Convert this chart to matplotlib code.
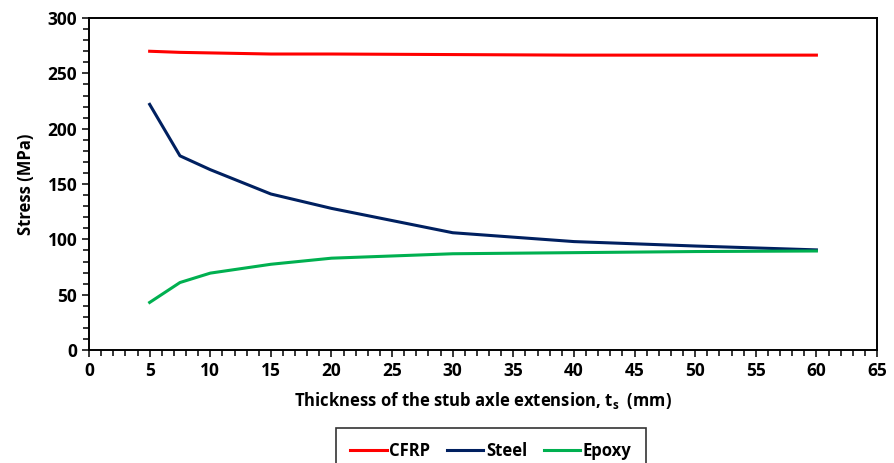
import matplotlib.pyplot as plt
from matplotlib.ticker import MultipleLocator

plt.rcParams['font.family'] = ['Open Sans', 'DejaVu Sans']
plt.rcParams['mathtext.fontset'] = 'custom'
plt.rcParams['mathtext.bf'] = 'Open Sans:bold'
plt.rcParams['mathtext.rm'] = 'Open Sans'

thickness = [5, 7.5, 10, 15, 20, 30, 40, 50, 60]
cfrp = [270, 269, 268.5, 267.5, 267.5, 267, 266.5, 266.5, 266.5]
steel = [222, 175.5, 163, 141, 128, 106, 98, 94, 90.5]
epoxy = [43, 61, 69.5, 77.5, 83, 87, 88, 89, 89.5]

fig = plt.figure(figsize=(8.94, 4.63), dpi=100)
ax = fig.add_axes([0.0996, 0.244, 0.8814, 0.717])

ax.plot(thickness, cfrp, color='#ff0000', lw=2.2, label='CFRP')
ax.plot(thickness, steel, color='#002060', lw=2.2, label='Steel')
ax.plot(thickness, epoxy, color='#00b050', lw=2.2, label='Epoxy')

ax.set_xlim(0, 65)
ax.set_ylim(0, 300)
ax.xaxis.set_major_locator(MultipleLocator(5))
ax.xaxis.set_minor_locator(MultipleLocator(1))
ax.yaxis.set_major_locator(MultipleLocator(50))
ax.yaxis.set_minor_locator(MultipleLocator(10))
ax.tick_params(which='both', direction='out', width=1.1)
ax.tick_params(which='major', length=5, labelsize=12.5)
ax.tick_params(which='minor', length=4)
for lbl in ax.get_xticklabels() + ax.get_yticklabels():
    lbl.set_fontweight('bold')
for sp in ax.spines.values():
    sp.set_linewidth(1.4)

ax.set_xlabel(r'Thickness of the stub axle extension, t$_\mathbf{s}$  (mm)',
              fontsize=12, fontweight='bold', labelpad=7)
ax.set_ylabel('Stress (MPa)', fontsize=12, fontweight='bold', labelpad=9)

leg = fig.legend(loc='upper center', bbox_to_anchor=(0.549, 0.0756), ncol=3,
                 frameon=True, fancybox=False, edgecolor='black',
                 prop={'size': 12, 'weight': 'bold'}, handlelength=2.2,
                 handletextpad=0.15, columnspacing=1.0, borderpad=0.85,
                 borderaxespad=0)
leg.get_frame().set_linewidth(1.2)

fig.savefig('out.png', dpi=100)
